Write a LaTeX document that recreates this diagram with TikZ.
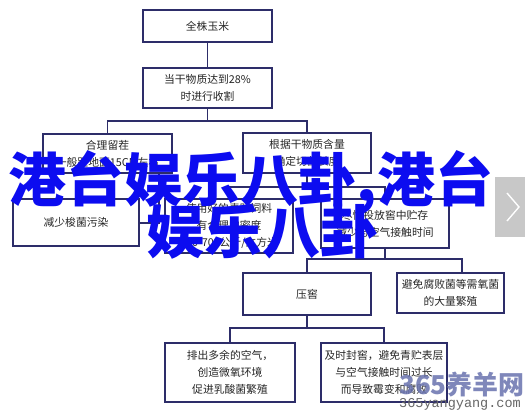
\documentclass[tikz,border=0pt]{standalone}
\usepackage{fontspec}
\setmainfont{Liberation Sans}
\newfontfamily\cjk{Noto Sans CJK SC}
\newfontfamily\monof{Liberation Mono}
\definecolor{boxc}{RGB}{45,45,105}
\definecolor{bigblue}{RGB}{12,12,240}
\definecolor{wmblue}{RGB}{105,115,175}
\definecolor{btngray}{RGB}{200,200,200}
\tikzset{
  box/.style={draw=boxc, line width=1.6pt, fill=white, inner sep=0pt, align=center,
    font=\cjk\fontsize{10.8}{17}\selectfont, text=black!85},
  conn/.style={draw=boxc, line width=1.6pt},
  bigtxt/.style={inner sep=0pt, text=bigblue, font=\cjk\bfseries\fontsize{58}{58}\selectfont},
}
\begin{document}
\begin{tikzpicture}[x=1pt,y=-1pt]
\useasboundingbox[fill=white] (0,0) rectangle (525,411);
% boxes
\node[box, minimum width=129pt, minimum height=32pt] (b1) at (207.5,26) {全株玉米};
\node[box, minimum width=129pt, minimum height=40pt] (b2) at (207.5,88) {当干物质达到28\%\\时进行收割};
\node[box, minimum width=129pt, minimum height=39pt] (b3) at (107.5,153.5) {合理留茬\\一般距地面15CM左右};
\node[box, minimum width=128pt, minimum height=40pt] (b4) at (307,153) {根据干物质含量\\确定切割长度};
\node[box, minimum width=126pt, minimum height=47pt] (b5) at (76,222.5) {减少梭菌污染};
\node[box, minimum width=128pt, minimum height=54pt] (b6) at (229,226) {使用好的青贮饲料\\有合理的密度\\500-700公斤/立方米};
\node[box, minimum width=128pt, minimum height=49pt] (b7) at (385,223.5) {尽快投放窖中贮存\\减少与空气接触时间};
\node[box, minimum width=128pt, minimum height=42pt] (b8) at (307,294) {压窖};
\node[box, minimum width=107pt, minimum height=40pt] (b9) at (450.5,293) {避免腐败菌等需氧菌\\的大量繁殖};
\node[box, minimum width=130pt, minimum height=59pt] (b10) at (230,372.5) {排出多余的空气，\\创造微氧环境\\促进乳酸菌繁殖};
\node[box, minimum width=126pt, minimum height=59pt] (b11) at (384,372.5) {及时封窖，避免青贮表层\\与空气接触时间过长\\而导致霉变和腐败};
% connectors
\coordinate (j1) at (207.5,121);
\coordinate (j2) at (307,187);
\coordinate (j3) at (385,259);
\coordinate (j4) at (307,328);
\coordinate (c1) at (159,223);
\coordinate (k9) at (462,0);
\draw[conn] (b1) -- (b2);
\draw[conn] (b2.south) -- (j1);
\draw[conn] (b3.north) |- (j1) -| (b4.north);
\draw[conn] (b3.south -| c1) -- (c1) -- (b5.east |- c1);
\draw[conn] (b4.south) -- (j2);
\draw[conn] (b6.north) |- (j2) -| (b7.north);
\draw[conn] (b7.south) -- (j3);
\draw[conn] (b8.north) |- (j3) -| (b9.north -| k9);
\draw[conn] (b8.south) -- (j4);
\draw[conn] (b10.north) |- (j4) -| (b11.north);
% overlay big text
\node[bigtxt] (t1) at (251,183) {港台娱乐八卦,港台};
\node[bigtxt] (t2) at (262,232) {娱乐八卦};
% right button
\fill[btngray] (495,177) rectangle (525,237);
\draw[white, line width=1.4pt] (507,193) -- (519,207) -- (507,221);
% watermark
\node[inner sep=0pt, text=wmblue, opacity=0.85, font=\cjk\bfseries\fontsize{26}{26}\selectfont] (w1) at (462,385) {365养羊网};
\node[inner sep=0pt, text=black!60, font=\monof\fontsize{13.5}{14}\selectfont] (w2) at (460,404) {365yangyang.com};
\end{tikzpicture}
\end{document}
